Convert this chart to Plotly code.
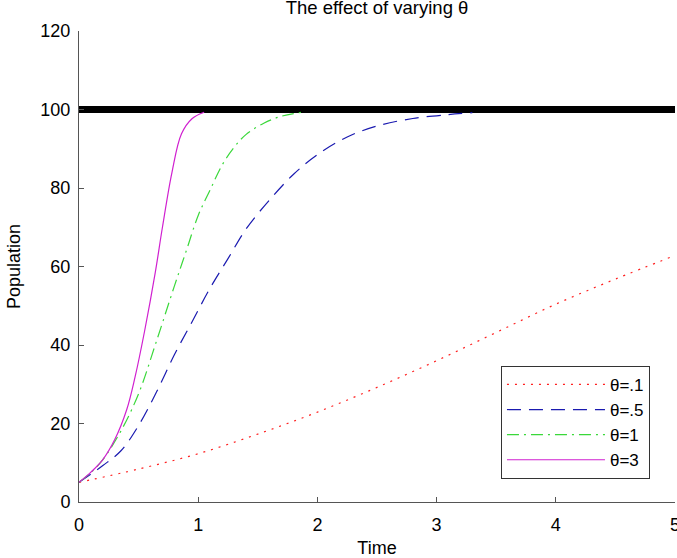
import plotly.graph_objects as go

# values
t_01 = [0, 0.5, 1.0, 1.5, 2.0, 2.5, 3.0, 3.5, 4.0, 4.5, 5.0]
p_01 = [5, 8.4, 12.3, 17.3, 22.9, 29.2, 36.0, 43.2, 50.4, 56.8, 62.8]

t_05 = [0, 0.2, 0.35, 0.5, 0.65, 0.8, 0.95, 1.1, 1.25, 1.4, 1.6, 1.8, 2.0, 2.25, 2.5, 2.8, 3.1, 3.3]
p_05 = [5, 9.3, 13.0, 19.5, 28.0, 37.5, 46.0, 54.5, 62.0, 69.5, 77.0, 83.5, 88.5, 93.0, 95.8, 97.7, 98.7, 99.2]

t_1 = [0, 0.1, 0.2, 0.35, 0.5, 0.65, 0.8, 0.9, 1.0, 1.1, 1.2, 1.3, 1.4, 1.55, 1.7, 1.87]
p_1 = [5, 7.5, 10.8, 18.0, 27.6, 41.0, 55.0, 64.0, 73.0, 79.5, 85.8, 90.3, 93.6, 96.5, 98.3, 99.3]

t_3 = [0, 0.1, 0.2, 0.3, 0.4, 0.47, 0.55, 0.64, 0.7, 0.78, 0.86, 0.95, 1.05]
p_3 = [5, 7.6, 10.8, 15.9, 23.5, 31.8, 43.5, 58.5, 70.0, 84.0, 93.8, 97.7, 99.3]

capacity_t = [0, 5]
capacity_p = [100, 100]

series = [
    ("θ=.1", t_01, p_01, "#ff2020", "2px,6px"),
    ("θ=.5", t_05, p_05, "#1a1ab0", "14px,8px"),
    ("θ=1", t_1, p_1, "#3ad83a", "12px,5px,2px,5px"),
    ("θ=3", t_3, p_3, "#d020d0", "solid"),
]

fig = go.Figure()
fig.add_trace(go.Scatter(x=capacity_t, y=capacity_p, mode="lines", line=dict(color="black", width=7), showlegend=False))
for name, t, p, color, dash in series:
    fig.add_trace(go.Scatter(x=t, y=p, mode="lines", name=name, line=dict(color=color, width=1.2, dash=dash, shape="spline")))

axis_style = dict(showline=True, linecolor="#555555", linewidth=1, ticks="inside", ticklen=5, tickcolor="#555555",
                  showgrid=False, zeroline=False, automargin=False, ticklabeloverflow="allow",
                  tickfont=dict(size=18, color="black"))

fig.update_layout(
    width=677,
    height=558,
    margin=dict(l=79, r=2, t=31, b=56),
    paper_bgcolor="white",
    plot_bgcolor="white",
    font=dict(family="Liberation Sans, Arial, sans-serif", size=18, color="black"),
    title=dict(text="The effect of varying θ", x=0.5, xref="paper", xanchor="center",
               y=0.986, yref="container", yanchor="middle", font=dict(size=18.5)),
    xaxis=dict(range=[0, 5], tickvals=[0, 1, 2, 3, 4, 5], ticklabelstandoff=6,
               title=dict(text="Time", font=dict(size=18)), **axis_style),
    yaxis=dict(range=[0, 120], tickvals=[0, 20, 40, 60, 80, 100, 120], ticklabelstandoff=4,
               title=dict(text="Population", font=dict(size=18)), **axis_style),
    legend=dict(x=0.958, y=0.049, xanchor="right", yanchor="bottom", bordercolor="#333333", borderwidth=1,
                bgcolor="white", font=dict(size=17), itemwidth=98, tracegroupgap=0),
)

# drop the page's default body margin so the figure sits at the window's corner
fig.write_html("out.html", config={"displayModeBar": False},
               post_script="document.body.style.margin='0';")
